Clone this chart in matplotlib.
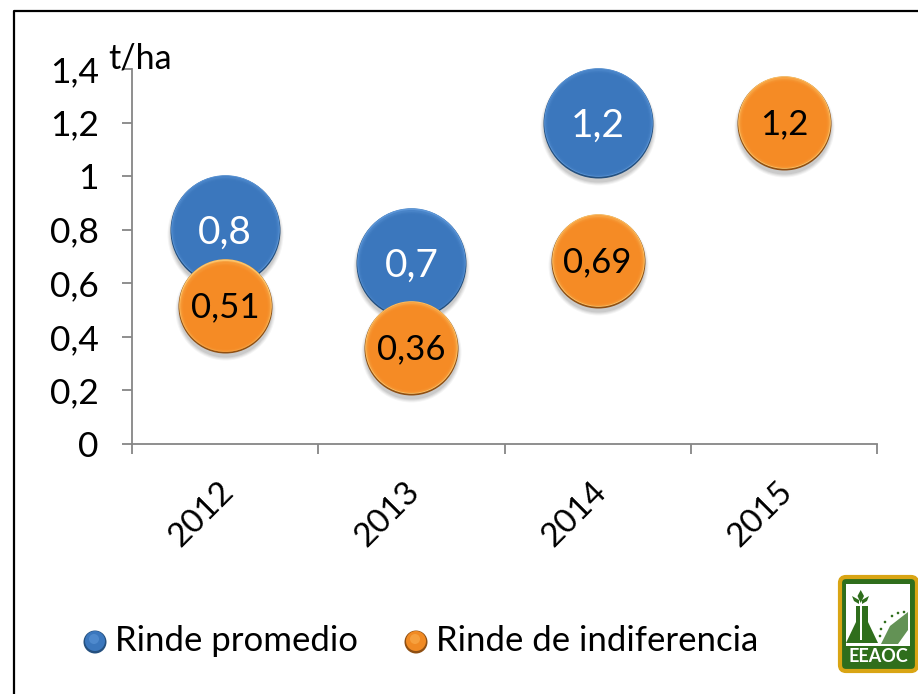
import matplotlib
matplotlib.use("Agg")
import matplotlib.pyplot as plt
from matplotlib.patches import Rectangle, FancyBboxPatch, Polygon, Circle
from matplotlib.transforms import offset_copy

W, H = 918, 694

# values
years = ["2012", "2013", "2014", "2015"]
promedio_idx = [0, 1, 2]
promedio = [0.8, 0.675, 1.2]
promedio_labels = ["0,8", "0,7", "1,2"]
indif_idx = [0, 1, 2, 3]
indiferencia = [0.515, 0.36, 0.685, 1.2]
indif_labels = ["0,51", "0,36", "0,69", "1,2"]
y_ticks = [0, 0.2, 0.4, 0.6, 0.8, 1, 1.2, 1.4]
y_tick_labels = ["0", "0,2", "0,4", "0,6", "0,8", "1", "1,2", "1,4"]

plt.rcParams["font.family"] = ["Lato", "DejaVu Sans"]


def px_area(r):
    # scatter size for a radius given in image pixels (dpi 100)
    return (2 * r * 72 / 100) ** 2


def bubble(ax, xs, ys, r, dark, mid, light, z):
    fig = ax.figure

    def layer(rad, dy, color, alpha=1.0):
        tr = offset_copy(ax.transData, fig=fig, x=0, y=dy, units="dots")
        ax.scatter(xs, ys, s=px_area(rad), color=color, alpha=alpha, lw=0, zorder=z,
                   transform=tr, clip_on=False)

    # soft shadow below
    for grow, a in [(3, 0.04), (2, 0.05), (1, 0.06), (0, 0.07)]:
        layer(r + grow, -4, "black", a)
    layer(r, 0, dark)
    # bevel: light cap slides up over the dark rim, then the flat face fades in
    layer(r - 0.7, 0.7, light)
    layer(r - 1.5, 0.3, mid, 0.6)
    for step, a in [(2.5, 0.5), (3.5, 0.5), (4.5, 0.6), (5.5, 0.8)]:
        layer(r - step, -step * 0.15, mid, a)


fig = plt.figure(figsize=(W / 100, H / 100), dpi=100, facecolor="white")
ax = fig.add_axes([132 / W, 1 - 444 / H, (877 - 132) / W, (444 - 69) / H])
ax.set_xlim(0, 4)
ax.set_ylim(0, 1.4)
ax.patch.set_alpha(0)

for s in ["top", "right"]:
    ax.spines[s].set_visible(False)
for s in ["left", "bottom"]:
    ax.spines[s].set_color("#868686")
    ax.spines[s].set_linewidth(1.3)

ax.set_yticks(y_ticks)
ax.set_yticklabels(y_tick_labels, fontsize=25.5, color="black")
ax.set_xticks(range(5))
ax.set_xticklabels([])
ax.tick_params(axis="x", length=7, width=1.3, color="#868686")
ax.tick_params(axis="y", length=7, width=1.3, color="#868686", pad=17)

for i, y in enumerate(years):
    ax.annotate(y, (i + 0.5, 0), xytext=(-17, -23), textcoords="offset points", rotation=45,
                ha="center", va="top", fontsize=24, rotation_mode="default")

bubble(ax, [i + 0.5 for i in promedio_idx], promedio, 55, "#24507f", "#3b77bd", "#5c96d8", 3)
bubble(ax, [i + 0.5 for i in indif_idx], indiferencia, 47, "#8f4f12", "#f58b25", "#fdc46a", 4)

for i, v, t in zip(promedio_idx, promedio, promedio_labels):
    ax.annotate(t, (i + 0.5, v), xytext=(0, -2), textcoords="offset points", color="white", fontsize=28,
                ha="center", va="center", zorder=5)
for i, v, t in zip(indif_idx, indiferencia, indif_labels):
    ax.annotate(t, (i + 0.5, v), xytext=(0, -1), textcoords="offset points", color="black", fontsize=25,
                ha="center", va="center", zorder=5)

fig.text(108 / W, 1 - 58 / H, "t/ha", fontsize=24.5, ha="left", va="center")

# legend, placed by hand to sit where the original does
over = fig.add_axes([0, 0, 1, 1], facecolor="none")
over.set_xlim(0, W)
over.set_ylim(H, 0)
over.axis("off")
for cx, cy, dark, mid, light in [(95, 642, "#24507f", "#3b77bd", "#5c96d8"),
                                 (416, 642, "#8f4f12", "#f08a24", "#fbb050")]:
    over.add_patch(Circle((cx, cy), 11.5, color=dark, lw=0))
    over.add_patch(Circle((cx, cy - 1), 10, color=mid, lw=0))
    over.add_patch(Circle((cx - 1, cy - 3), 5, color=light, alpha=0.6, lw=0))
over.text(115, 641, "Rinde promedio", fontsize=25, va="center", ha="left")
over.text(436, 641, "Rinde de indiferencia", fontsize=25, va="center", ha="left")

# outer frame, open on the right and bottom
over.plot([14, 14, W], [H, 10.5, 10.5], color="black", lw=1.6)

# logo
green = "#2f6e1c"
over.add_patch(FancyBboxPatch((843, 580), 71, 88, boxstyle="round,pad=3,rounding_size=6", fc=green, ec="#d9a514", lw=3))
over.add_patch(Rectangle((846, 584), 64, 62, fc="white", lw=0))
over.add_patch(Polygon([[856, 606], [868, 606], [868, 622], [878, 643], [846, 643], [856, 622]], fc=green, lw=0))
over.add_patch(Rectangle((859.5, 598), 2.5, 42, fc="white", lw=0))
over.add_patch(Polygon([[860.7, 590], [864, 596], [860.7, 603], [857.5, 596]], fc=green, lw=0))
over.add_patch(Polygon([[852, 596], [859, 600], [859, 604], [854, 601]], fc=green, lw=0))
over.add_patch(Polygon([[869, 596], [862, 600], [862, 604], [867, 601]], fc=green, lw=0))
over.add_patch(Polygon([[908, 612], [908, 630], [898, 644], [881, 644], [890, 626]], fc=green, alpha=0.75, lw=0))
for dx, dy in [(880, 636), (881, 629), (885, 622), (892, 616), (898, 613), (904, 612)]:
    over.add_patch(Circle((dx, dy), 1.3, fc=green, lw=0))
over.text(878.5, 657, "EEAOC", color="white", fontsize=13, fontweight="bold", ha="center", va="center")

fig.savefig("out.png", dpi=100)
